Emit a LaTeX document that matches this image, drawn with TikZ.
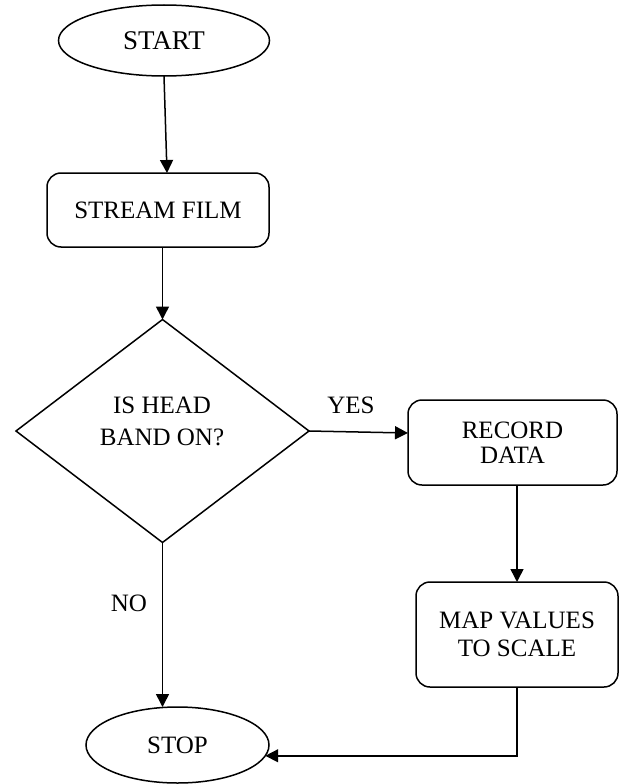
\documentclass[tikz,border=0pt]{standalone}
\usepackage{fontspec}
\setmainfont{Liberation Serif}
\usetikzlibrary{shapes.geometric,arrows.meta}
\begin{document}
\begin{tikzpicture}[x=1pt,y=-1pt,
  every node/.style={font=\fontsize{25}{27}\selectfont, inner sep=0pt, outer sep=0pt},
  term/.style={ellipse, draw, line width=1.5pt},
  proc/.style={rectangle, rounded corners=14pt, draw, line width=1.5pt, align=center},
  decis/.style={diamond, draw, line width=1.5pt},
  arr/.style={line width=1.5pt, -{Triangle[length=13pt,width=13pt]}},
  conn/.style={line width=1.5pt}]
\useasboundingbox (0,0) rectangle (619,784);
\node[term, minimum width=211pt, minimum height=71pt, font=\fontsize{27}{29}\selectfont] (start) at (164,40.5) {START};
\node[proc, minimum width=222pt, minimum height=74pt] (stream) at (158,210) {STREAM FILM};
\node[decis, minimum width=293pt, minimum height=223pt] (dec) at (162.5,431) {};
\node[align=center, font=\fontsize{25}{32}\selectfont] (dectext) at (162,421) {IS HEAD\\BAND ON?};
\node[proc, minimum width=209pt, minimum height=85pt, font=\fontsize{25}{25}\selectfont] (rec) at (512.5,442.5) {RECORD\\DATA};
\node[proc, minimum width=202pt, minimum height=105pt, font=\fontsize{25}{28}\selectfont] (map) at (517,634.5) {MAP VALUES\\ TO SCALE};
\node[term, minimum width=183pt, minimum height=76pt] (stop) at (177.5,745) {STOP};
\node (yes) at (351,405) {YES};
\node (no) at (129,603) {NO};
\draw[arr] (start.south) -- ([xshift=9pt]stream.north);
\draw[arr] (dec.north |- stream.south) -- (dec.north);
\draw[arr] (dec.east) -- ([yshift=-2pt]rec.west |- dec.east);
\draw[arr] (rec.south -| map.south) -- (map.north);
\draw[arr] (dec.south) -- (dec.south |- stop.north);
\draw[arr] (map.south) |- (stop.-7);
\end{tikzpicture}
\end{document}
